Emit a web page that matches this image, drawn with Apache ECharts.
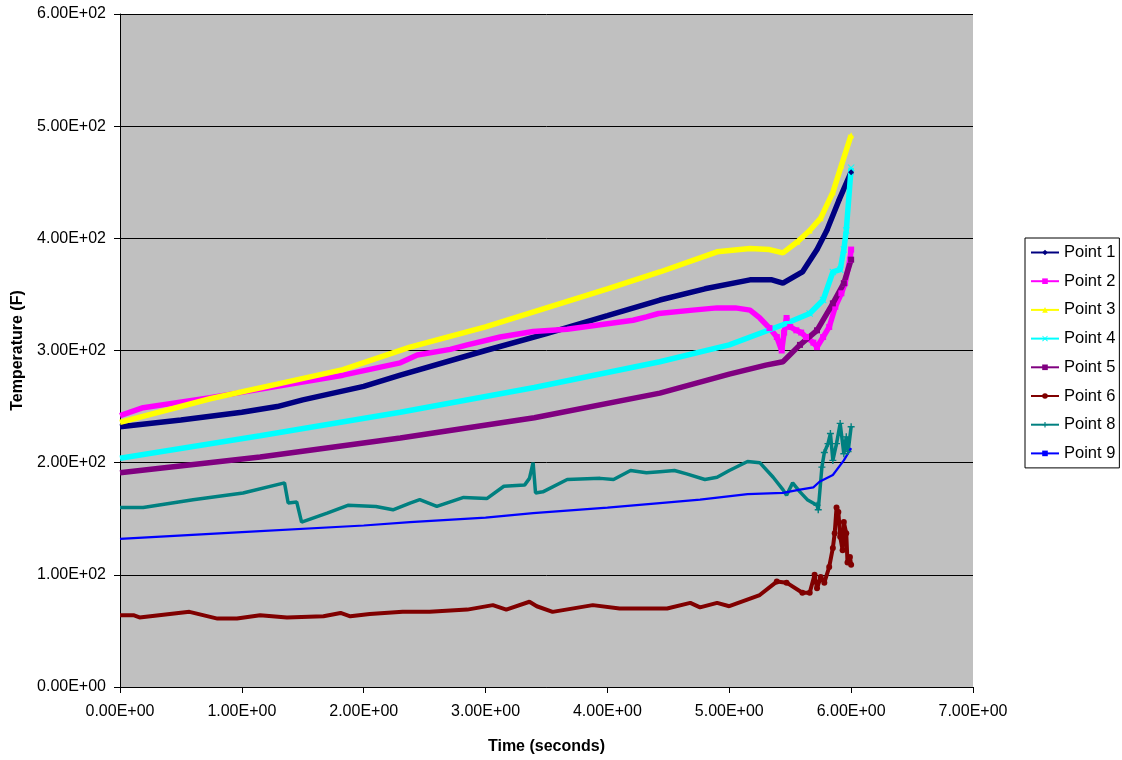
<!DOCTYPE html>
<html>
<head>
<meta charset="utf-8">
<script src="https://cdn.jsdelivr.net/npm/echarts@6/dist/echarts.min.js"></script>
<style>
html, body { margin: 0; padding: 0; background: #fff; }
#main { width: 1122px; height: 760px; }
</style>
</head>
<body>
<div id="main"></div>
<script>
// time (seconds) / temperature (F)
var t1 = [0, 0.5, 1, 1.29, 1.5, 2, 2.3, 3, 3.5, 4, 4.43, 4.8, 5.17, 5.35, 5.44, 5.6, 5.72, 5.8, 5.9, 6.0];
var p1 = [232, 238, 245, 250, 256, 268, 278, 300, 315, 331, 345, 355, 363, 363, 360, 370, 390, 407, 434, 459];

var t2 = [0, 0.19, 0.74, 1.29, 1.83, 2.3, 2.44, 2.71, 2.85, 3.12, 3.39, 3.67, 3.94, 4.21, 4.32, 4.42, 4.7, 4.9, 5.05, 5.17, 5.25, 5.33, 5.39, 5.43, 5.45, 5.47, 5.5, 5.55, 5.59, 5.63, 5.69, 5.72, 5.77, 5.82, 5.87, 5.92, 5.95, 5.99, 6.0];
var p2 = [242, 249, 258, 268, 278, 289, 296, 301, 305, 312, 317, 319, 323, 327, 330, 333, 336, 338, 338, 336, 329, 320, 312, 300, 316, 329, 321, 318, 316, 312, 307, 303, 312, 321, 339, 351, 360, 381, 390];

var t3 = [0, 0.74, 1.29, 1.83, 2.38, 3, 3.5, 4, 4.43, 4.9, 5.17, 5.33, 5.44, 5.56, 5.66, 5.75, 5.85, 5.92, 6.0];
var p3 = [236, 257, 270, 283, 303, 321, 338, 355, 370, 388, 391, 390, 387, 397, 407, 418, 441, 465, 492];

var t4 = [0, 1.15, 2.3, 3.4, 4.43, 5.0, 5.44, 5.66, 5.77, 5.85, 5.91, 5.94, 5.96, 6.0];
var p4 = [204, 224, 245, 267, 290, 305, 323, 333, 345, 370, 372, 390, 407, 463];

var t5 = [0, 1.15, 2.3, 3.4, 4.43, 5.0, 5.3, 5.44, 5.58, 5.72, 5.85, 5.94, 6.0];
var p5 = [191, 205, 222, 240, 262, 279, 287, 290, 305, 318, 342, 360, 381];

var t6 = [0, 0.11, 0.16, 0.57, 0.8, 0.96, 1.15, 1.37, 1.67, 1.81, 1.89, 2.05, 2.32, 2.54, 2.85, 3.06, 3.17, 3.36, 3.42, 3.55, 3.88, 4.1, 4.49, 4.68, 4.76, 4.9, 5.0, 5.25, 5.39, 5.47, 5.6, 5.66, 5.7, 5.72, 5.75, 5.78, 5.82, 5.85, 5.865, 5.88, 5.895, 5.91, 5.93, 5.94, 5.96, 5.97, 5.99, 6.0];
var p6 = [64, 64, 62, 67, 61, 61, 64, 62, 63, 66, 63, 65, 67, 67, 69, 73, 69, 76, 72, 67, 73, 70, 70, 75, 71, 75, 72, 82, 94, 93, 84, 84, 100, 88, 98, 93, 107, 124, 137, 160, 156, 134, 122, 147, 137, 111, 116, 109];

var t8 = [0, 0.19, 0.6, 1.01, 1.35, 1.38, 1.45, 1.49, 1.7, 1.87, 2.1, 2.24, 2.38, 2.46, 2.6, 2.82, 3.01, 3.15, 3.32, 3.36, 3.39, 3.41, 3.47, 3.67, 3.94, 4.05, 4.19, 4.32, 4.43, 4.55, 4.65, 4.8, 4.9, 5.0, 5.15, 5.25, 5.36, 5.44, 5.47, 5.52, 5.58, 5.64, 5.72, 5.73, 5.76, 5.78, 5.81, 5.83, 5.85, 5.88, 5.91, 5.94, 5.96, 5.975, 6.0];
var p8 = [160, 160, 167, 173, 182, 164, 165, 147, 155, 162, 161, 158, 164, 167, 161, 169, 168, 179, 180, 186, 200, 173, 174, 185, 186, 185, 193, 191, 192, 193, 190, 185, 187, 193, 201, 200, 187, 176, 171, 182, 174, 167, 162, 158, 196, 209, 217, 226, 202, 217, 235, 208, 223, 210, 232];

var t9 = [0, 1, 2, 2.38, 3, 3.39, 4, 4.43, 4.76, 5.15, 5.44, 5.58, 5.69, 5.74, 5.85, 5.94, 6.0];
var p9 = [132, 138, 144, 147, 151, 155, 160, 164, 167, 172, 173, 176, 178, 183, 189, 202, 213];

var names = ["Point 1", "Point 2", "Point 3", "Point 4", "Point 5", "Point 6", "Point 8", "Point 9"];
var colors = ["#000080", "#ff00ff", "#ffff00", "#00ffff", "#800080", "#800000", "#008080", "#0000ff"];

var xTicksMin = 0, xTicksMax = 7, xStep = 1;
var yTicksMin = 0, yTicksMax = 600, yStep = 100;

var plusPath = "path://M4,0L6,0L6,4L10,4L10,6L6,6L6,10L4,10L4,6L0,6L0,4L4,4Z";
var xPath = "path://M1,0L5,4L9,0L10,1L6,5L10,9L9,10L5,6L1,10L0,9L4,5L0,1Z";

// markers only where the samples get sparse (end of the run)
function pairs(t, p, markFrom) {
    var arr = [];
    for (var i = 0; i < t.length && i < p.length; i++) {
        if (markFrom != null && t[i] < markFrom) {
            arr.push({ value: [t[i], p[i]], symbol: "none" });
        } else {
            arr.push([t[i], p[i]]);
        }
    }
    return arr;
}

function sciFmt(v) {
    var s = Number(v).toExponential(2).toUpperCase();
    return s.replace(/E([+-])(\d+)$/, function (m, sign, d) {
        return "E" + sign + (d.length < 2 ? "0" + d : d);
    });
}

var font = "'Liberation Sans', Arial, sans-serif";

function mkSeries(idx, data, symbol, symSize, width) {
    return {
        name: names[idx],
        type: "line",
        data: data,
        symbol: symbol,
        symbolSize: symSize,
        showSymbol: true,
        lineStyle: { color: colors[idx], width: width },
        itemStyle: { color: colors[idx], borderWidth: 0 },
        emphasis: { disabled: true }
    };
}

var myChart = echarts.init(document.getElementById("main"), null, { renderer: "canvas" });
var option = {
    animation: false,
    backgroundColor: "#ffffff",
    grid: {
        left: 120,
        right: 149,
        top: 14,
        bottom: 73,
        show: true,
        backgroundColor: "#c0c0c0",
        borderWidth: 0
    },
    legend: {
        orient: "vertical",
        left: 1025,
        top: 238,
        padding: [6, 4, 6, 5],
        itemWidth: 28,
        itemHeight: 7,
        itemGap: 11.7,
        borderColor: "#000",
        borderWidth: 1,
        borderRadius: 0,
        backgroundColor: "#fff",
        lineStyle: { width: 2 },
        textStyle: { fontFamily: font, fontSize: 16.5, color: "#000" },
        data: names
    },
    xAxis: {
        type: "value",
        min: xTicksMin,
        max: xTicksMax,
        interval: xStep,
        name: "Time (seconds)",
        nameLocation: "middle",
        nameGap: 52,
        nameTextStyle: { fontFamily: font, fontSize: 16, fontWeight: "bold", color: "#000" },
        axisLine: { show: true, onZero: false, lineStyle: { color: "#000", width: 1 } },
        axisTick: { show: true, length: 6, lineStyle: { color: "#000" } },
        axisLabel: { formatter: sciFmt, fontFamily: font, fontSize: 16, color: "#000", margin: 17 },
        splitLine: { show: false }
    },
    yAxis: {
        type: "value",
        min: yTicksMin,
        max: yTicksMax,
        interval: yStep,
        name: "Temperature (F)",
        nameLocation: "middle",
        nameGap: 94,
        nameTextStyle: { fontFamily: font, fontSize: 16, fontWeight: "bold", color: "#000" },
        axisLine: { show: true, onZero: false, lineStyle: { color: "#000", width: 1 } },
        axisTick: { show: true, length: 6, lineStyle: { color: "#000" } },
        axisLabel: { formatter: sciFmt, fontFamily: font, fontSize: 16, color: "#000", margin: 14 },
        splitLine: { show: true, lineStyle: { color: "#000", width: 1 } }
    },
    series: [
        mkSeries(0, pairs(t1, p1, 5.5), "diamond", 6, 5.5),
        mkSeries(1, pairs(t2, p2, 5.3), "rect", 6, 5.5),
        mkSeries(2, pairs(t3, p3, 5.5), "triangle", 6, 5.5),
        mkSeries(3, pairs(t4, p4, 5.5), xPath, 7, 5.5),
        mkSeries(4, pairs(t5, p5, 5.5), "rect", 6, 5.5),
        mkSeries(5, pairs(t6, p6, 5.3), "circle", 6, 4),
        mkSeries(6, pairs(t8, p8, 5.7), plusPath, 7, 3.5),
        mkSeries(7, pairs(t9, p9, 7), "rect", [6, 2], 2.2)
    ]
};
myChart.setOption(option);
</script>
</body>
</html>
